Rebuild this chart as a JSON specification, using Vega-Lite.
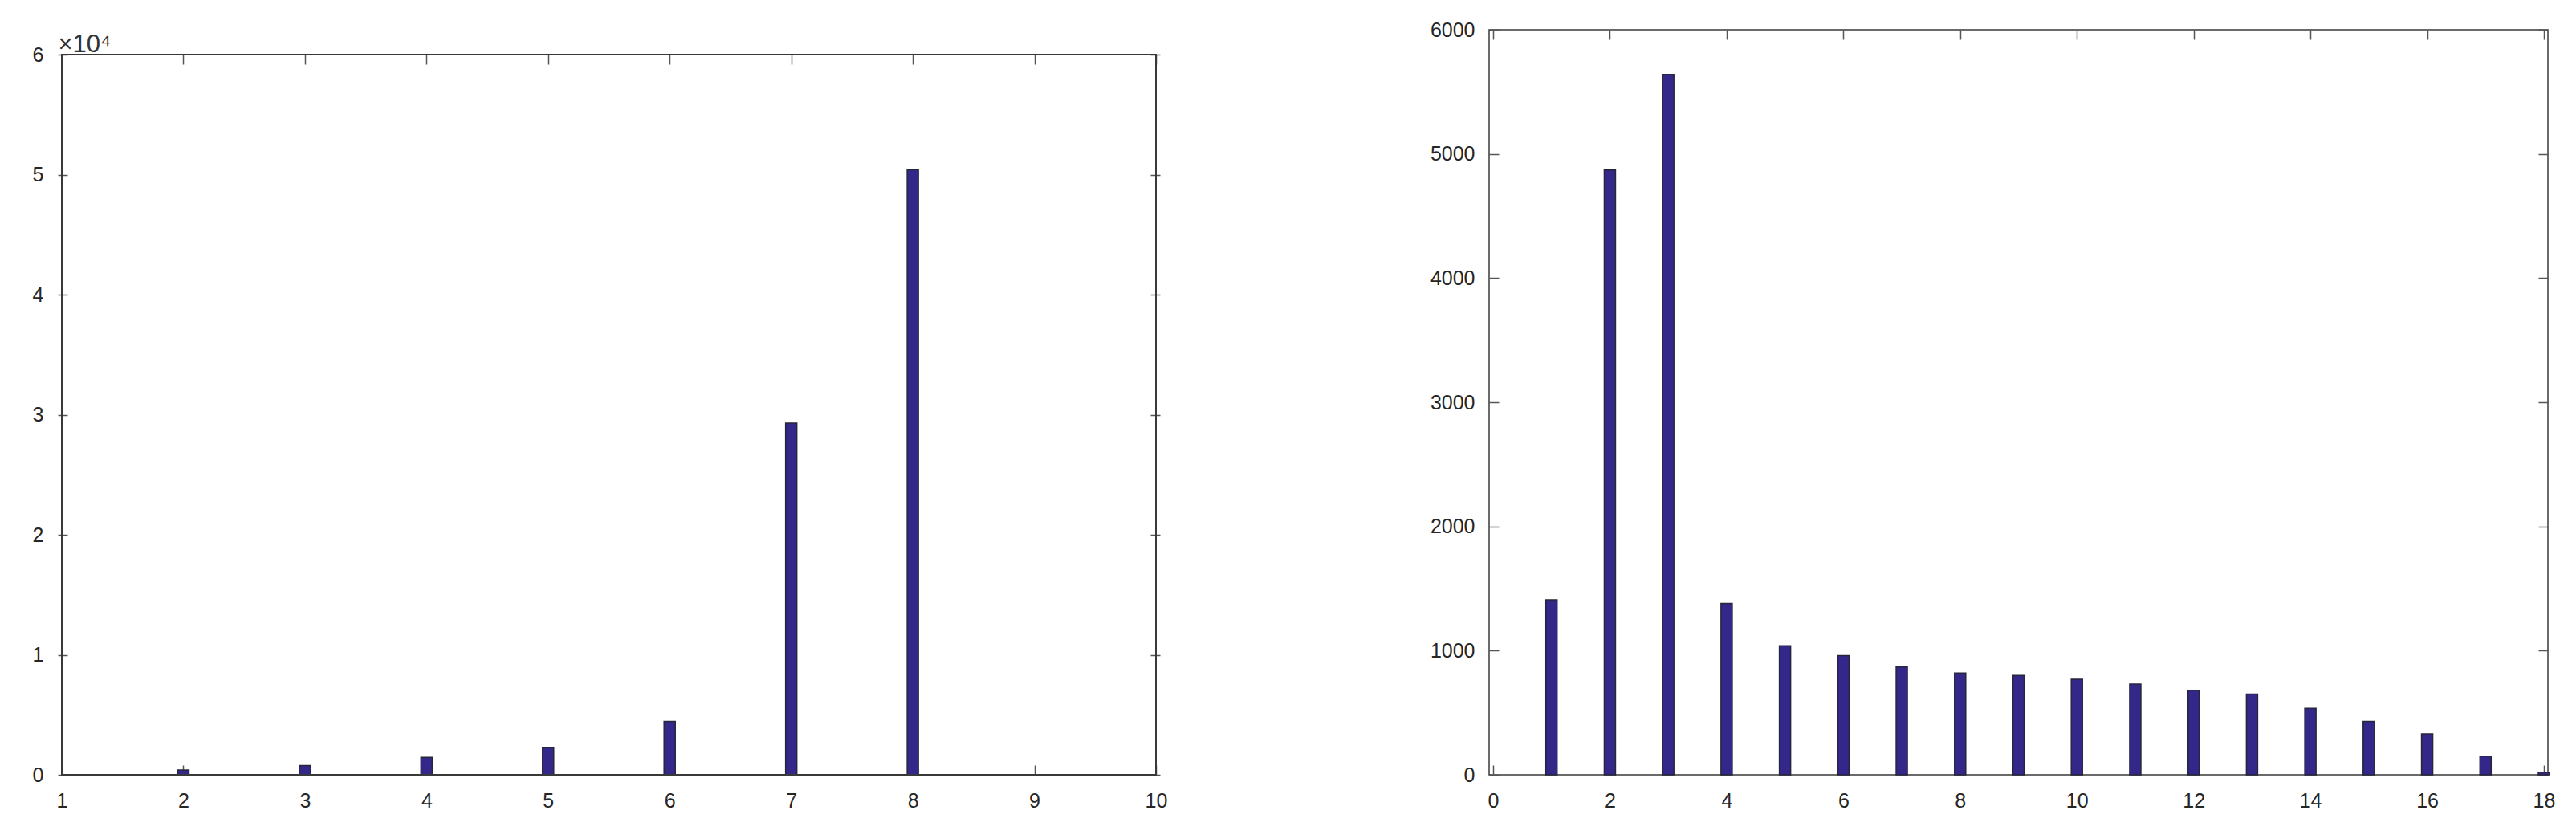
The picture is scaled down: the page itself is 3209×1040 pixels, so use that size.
{
  "$schema": "https://vega.github.io/schema/vega-lite/v6.json",
  "padding": {"left": 40, "top": 24, "right": 10, "bottom": 10},
  "background": "white",
  "config": {
    "view": {"stroke": "#3a3a3a", "strokeWidth": 1.5},
    "font": "Liberation Sans",
    "axis": {"grid": false, "domain": false, "ticks": true, "tickSize": -12, "tickWidth": 1.5, "tickColor": "#555555", "labelFont": "Liberation Sans", "labelFontSize": 25, "labelColor": "#262626", "title": null},
    "axisX": {"labelPadding": 32},
    "axisY": {"labelPadding": 30},
    "concat": {"spacing": 326}
  },
  "datasets": {
    "left": [
      {"bin": 2, "count": 400},
      {"bin": 3, "count": 770},
      {"bin": 4, "count": 1450},
      {"bin": 5, "count": 2250},
      {"bin": 6, "count": 4450},
      {"bin": 7, "count": 29300},
      {"bin": 8, "count": 50400}
    ],
    "right": [
      {"bin": 1, "count": 1410},
      {"bin": 2, "count": 4870},
      {"bin": 3, "count": 5640},
      {"bin": 4, "count": 1380},
      {"bin": 5, "count": 1040},
      {"bin": 6, "count": 960},
      {"bin": 7, "count": 870},
      {"bin": 8, "count": 820},
      {"bin": 9, "count": 800},
      {"bin": 10, "count": 770},
      {"bin": 11, "count": 730},
      {"bin": 12, "count": 680},
      {"bin": 13, "count": 650},
      {"bin": 14, "count": 535},
      {"bin": 15, "count": 430},
      {"bin": 16, "count": 330},
      {"bin": 17, "count": 150},
      {"bin": 18, "count": 20}
    ]
  },
  "hconcat": [
    {
      "width": 1373,
      "height": 928,
      "view": {"stroke": null},
      "data": {"name": "left"},
      "layer": [
        {
          "mark": {"type": "bar", "size": 14, "fill": "#34278a", "stroke": "#26263a", "strokeWidth": 1.5},
          "encoding": {
            "x": {"field": "bin", "type": "quantitative", "scale": {"domain": [1, 10], "nice": false}, "axis": {"orient": "bottom", "values": [1, 2, 3, 4, 5, 6, 7, 8, 9, 10]}},
            "y": {"field": "count", "type": "quantitative", "scale": {"domain": [0, 62074], "nice": false}, "axis": {"orient": "left", "values": [0, 10000, 20000, 30000, 40000, 50000, 60000], "labelExpr": "datum.value / 10000"}}
          }
        },
        {
          "mark": {"type": "point", "opacity": 0},
          "encoding": {
            "x": {"field": "bin", "type": "quantitative", "axis": {"orient": "top", "offset": -31, "labels": false, "values": [1, 2, 3, 4, 5, 6, 7, 8, 9, 10], "title": "×10⁴", "titleAnchor": "start", "titleAlign": "left", "titleBaseline": "alphabetic", "titleFontSize": 31, "titleFontWeight": "normal", "titleColor": "#333333", "titleFont": "Liberation Sans", "titlePadding": 3}},
            "y": {"field": "count", "type": "quantitative", "axis": {"orient": "right", "labels": false, "values": [0, 10000, 20000, 30000, 40000, 50000, 60000]}}
          }
        },
        {
          "mark": {"type": "rect", "fill": "transparent", "stroke": "#3a3a3a", "strokeWidth": 1.5},
          "encoding": {
            "x": {"datum": 1, "type": "quantitative", "axis": null},
            "x2": {"datum": 10},
            "y": {"datum": 0, "type": "quantitative", "axis": null},
            "y2": {"datum": 60000}
          }
        }
      ],
      "resolve": {"axis": {"x": "independent", "y": "independent"}}
    },
    {
      "width": 1319,
      "height": 928,
      "data": {"name": "right"},
      "layer": [
        {
          "mark": {"type": "bar", "size": 14, "fill": "#34278a", "stroke": "#26263a", "strokeWidth": 1.5},
          "encoding": {
            "x": {"field": "bin", "type": "quantitative", "scale": {"domain": [0, 18], "nice": false}, "axis": {"orient": "bottom", "values": [0, 2, 4, 6, 8, 10, 12, 14, 16, 18]}},
            "y": {"field": "count", "type": "quantitative", "scale": {"domain": [0, 6000], "nice": false}, "axis": {"orient": "left", "values": [0, 1000, 2000, 3000, 4000, 5000, 6000], "format": "d"}}
          }
        },
        {
          "mark": {"type": "point", "opacity": 0},
          "encoding": {
            "x": {"field": "bin", "type": "quantitative", "axis": {"orient": "top", "labels": false, "values": [0, 2, 4, 6, 8, 10, 12, 14, 16, 18]}},
            "y": {"field": "count", "type": "quantitative", "axis": {"orient": "right", "labels": false, "values": [0, 1000, 2000, 3000, 4000, 5000, 6000]}}
          }
        }
      ],
      "resolve": {"axis": {"x": "independent", "y": "independent"}}
    }
  ]
}
